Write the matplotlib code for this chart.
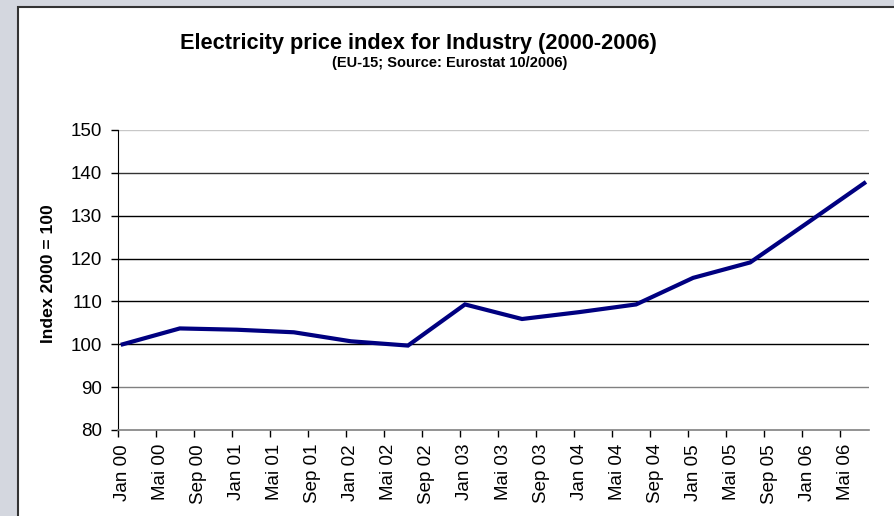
import matplotlib
matplotlib.use("Agg")
import matplotlib.pyplot as plt
from matplotlib.patches import Rectangle

# ------------------------------------------------------------------
# Data (semi-annual index values, Jan 2000 = 100)
# ------------------------------------------------------------------
periods = [
    "Jan 00", "Jul 00", "Jan 01", "Jul 01", "Jan 02", "Jul 02", "Jan 03",
    "Jul 03", "Jan 04", "Jul 04", "Jan 05", "Jul 05", "Jan 06", "Jul 06",
]
month_index = [0, 6, 12, 18, 24, 30, 36, 42, 48, 54, 60, 66, 72, 78]
price_index = [
    100.0, 103.7, 103.4, 102.8, 100.7, 99.7, 109.3,
    105.9, 107.5, 109.3, 115.5, 119.1, 128.3, 137.6,
]

tick_labels = [
    "Jan 00", "Mai 00", "Sep 00", "Jan 01", "Mai 01", "Sep 01", "Jan 02",
    "Mai 02", "Sep 02", "Jan 03", "Mai 03", "Sep 03", "Jan 04", "Mai 04",
    "Sep 04", "Jan 05", "Mai 05", "Sep 05", "Jan 06", "Mai 06",
]
y_ticks = [80, 90, 100, 110, 120, 130, 140, 150]

plt.rcParams["font.family"] = ["Liberation Sans", "DejaVu Sans"]

W, H = 894, 516
fig = plt.figure(figsize=(W / 100, H / 100), dpi=100)
fig.patch.set_facecolor("#D4D7DF")

# white chart panel with dark left/top border
panel = Rectangle(
    (18 / W, -0.05), 1.2, (H - 7) / H + 0.05,
    transform=fig.transFigure, facecolor="white",
    edgecolor="#333333", linewidth=1.5, zorder=-10,
)
fig.patches.append(panel)

ax = fig.add_axes([118 / W, (H - 430) / H, (869 - 118) / W, 300 / H])
ax.set_zorder(5)
ax.set_facecolor("white")

# categories are months, points sit in the middle of each month
x = [m + 0.5 for m in month_index]
ax.plot(x, price_index, color="#000080", linewidth=3.0,
        solid_joinstyle="miter", zorder=3)

ax.set_xlim(0, 79)
ax.set_ylim(80, 150)

# ------------------------------------------------------------------
# Ticks
# ------------------------------------------------------------------
major = [4 * i for i in range(len(tick_labels))]
ax.set_xticks(major)
ax.set_xticklabels([])
ax.set_xticks([m + 0.5 for m in major], minor=True)
ax.set_xticklabels(tick_labels, minor=True, rotation=90, fontsize=13.5)
ax.tick_params(axis="x", which="major", direction="out", length=5,
               width=1, color="black")
ax.tick_params(axis="x", which="minor", length=0, pad=10)

ax.set_yticks(y_ticks)
ax.set_yticklabels([str(v) for v in y_ticks], fontsize=13.5)
ax.tick_params(axis="y", direction="out", length=5, width=1, pad=6.5,
               color="black")

# horizontal gridlines
ax.yaxis.grid(True, color="black", linewidth=1.0)
ax.set_axisbelow(True)
grid_colors = ["none", "#808080", "black", "black", "black", "black",
               "#333333", "#C8C8C8"]
for gl, c in zip(ax.yaxis.get_gridlines(), grid_colors):
    gl.set_color(c)

for side in ["top", "right"]:
    ax.spines[side].set_visible(False)
ax.spines["left"].set_color("black")
ax.spines["bottom"].set_color("#808080")
ax.spines["bottom"].set_linewidth(1.2)

ax.set_ylabel("Index 2000 = 100", fontsize=12.6, fontweight="bold")
ax.yaxis.set_label_coords((56 - 118) / (869 - 118), 0.52)

# ------------------------------------------------------------------
# Titles
# ------------------------------------------------------------------
fig.text(418 / W, 1 - 43 / H,
         "Electricity price index for Industry (2000-2006)",
         ha="center", va="center", fontsize=15.7, fontweight="bold")
fig.text(450 / W, 1 - 63 / H, "(EU-15; Source: Eurostat 10/2006)",
         ha="center", va="center", fontsize=10.5, fontweight="bold")

fig.savefig("out.png", dpi=100)
